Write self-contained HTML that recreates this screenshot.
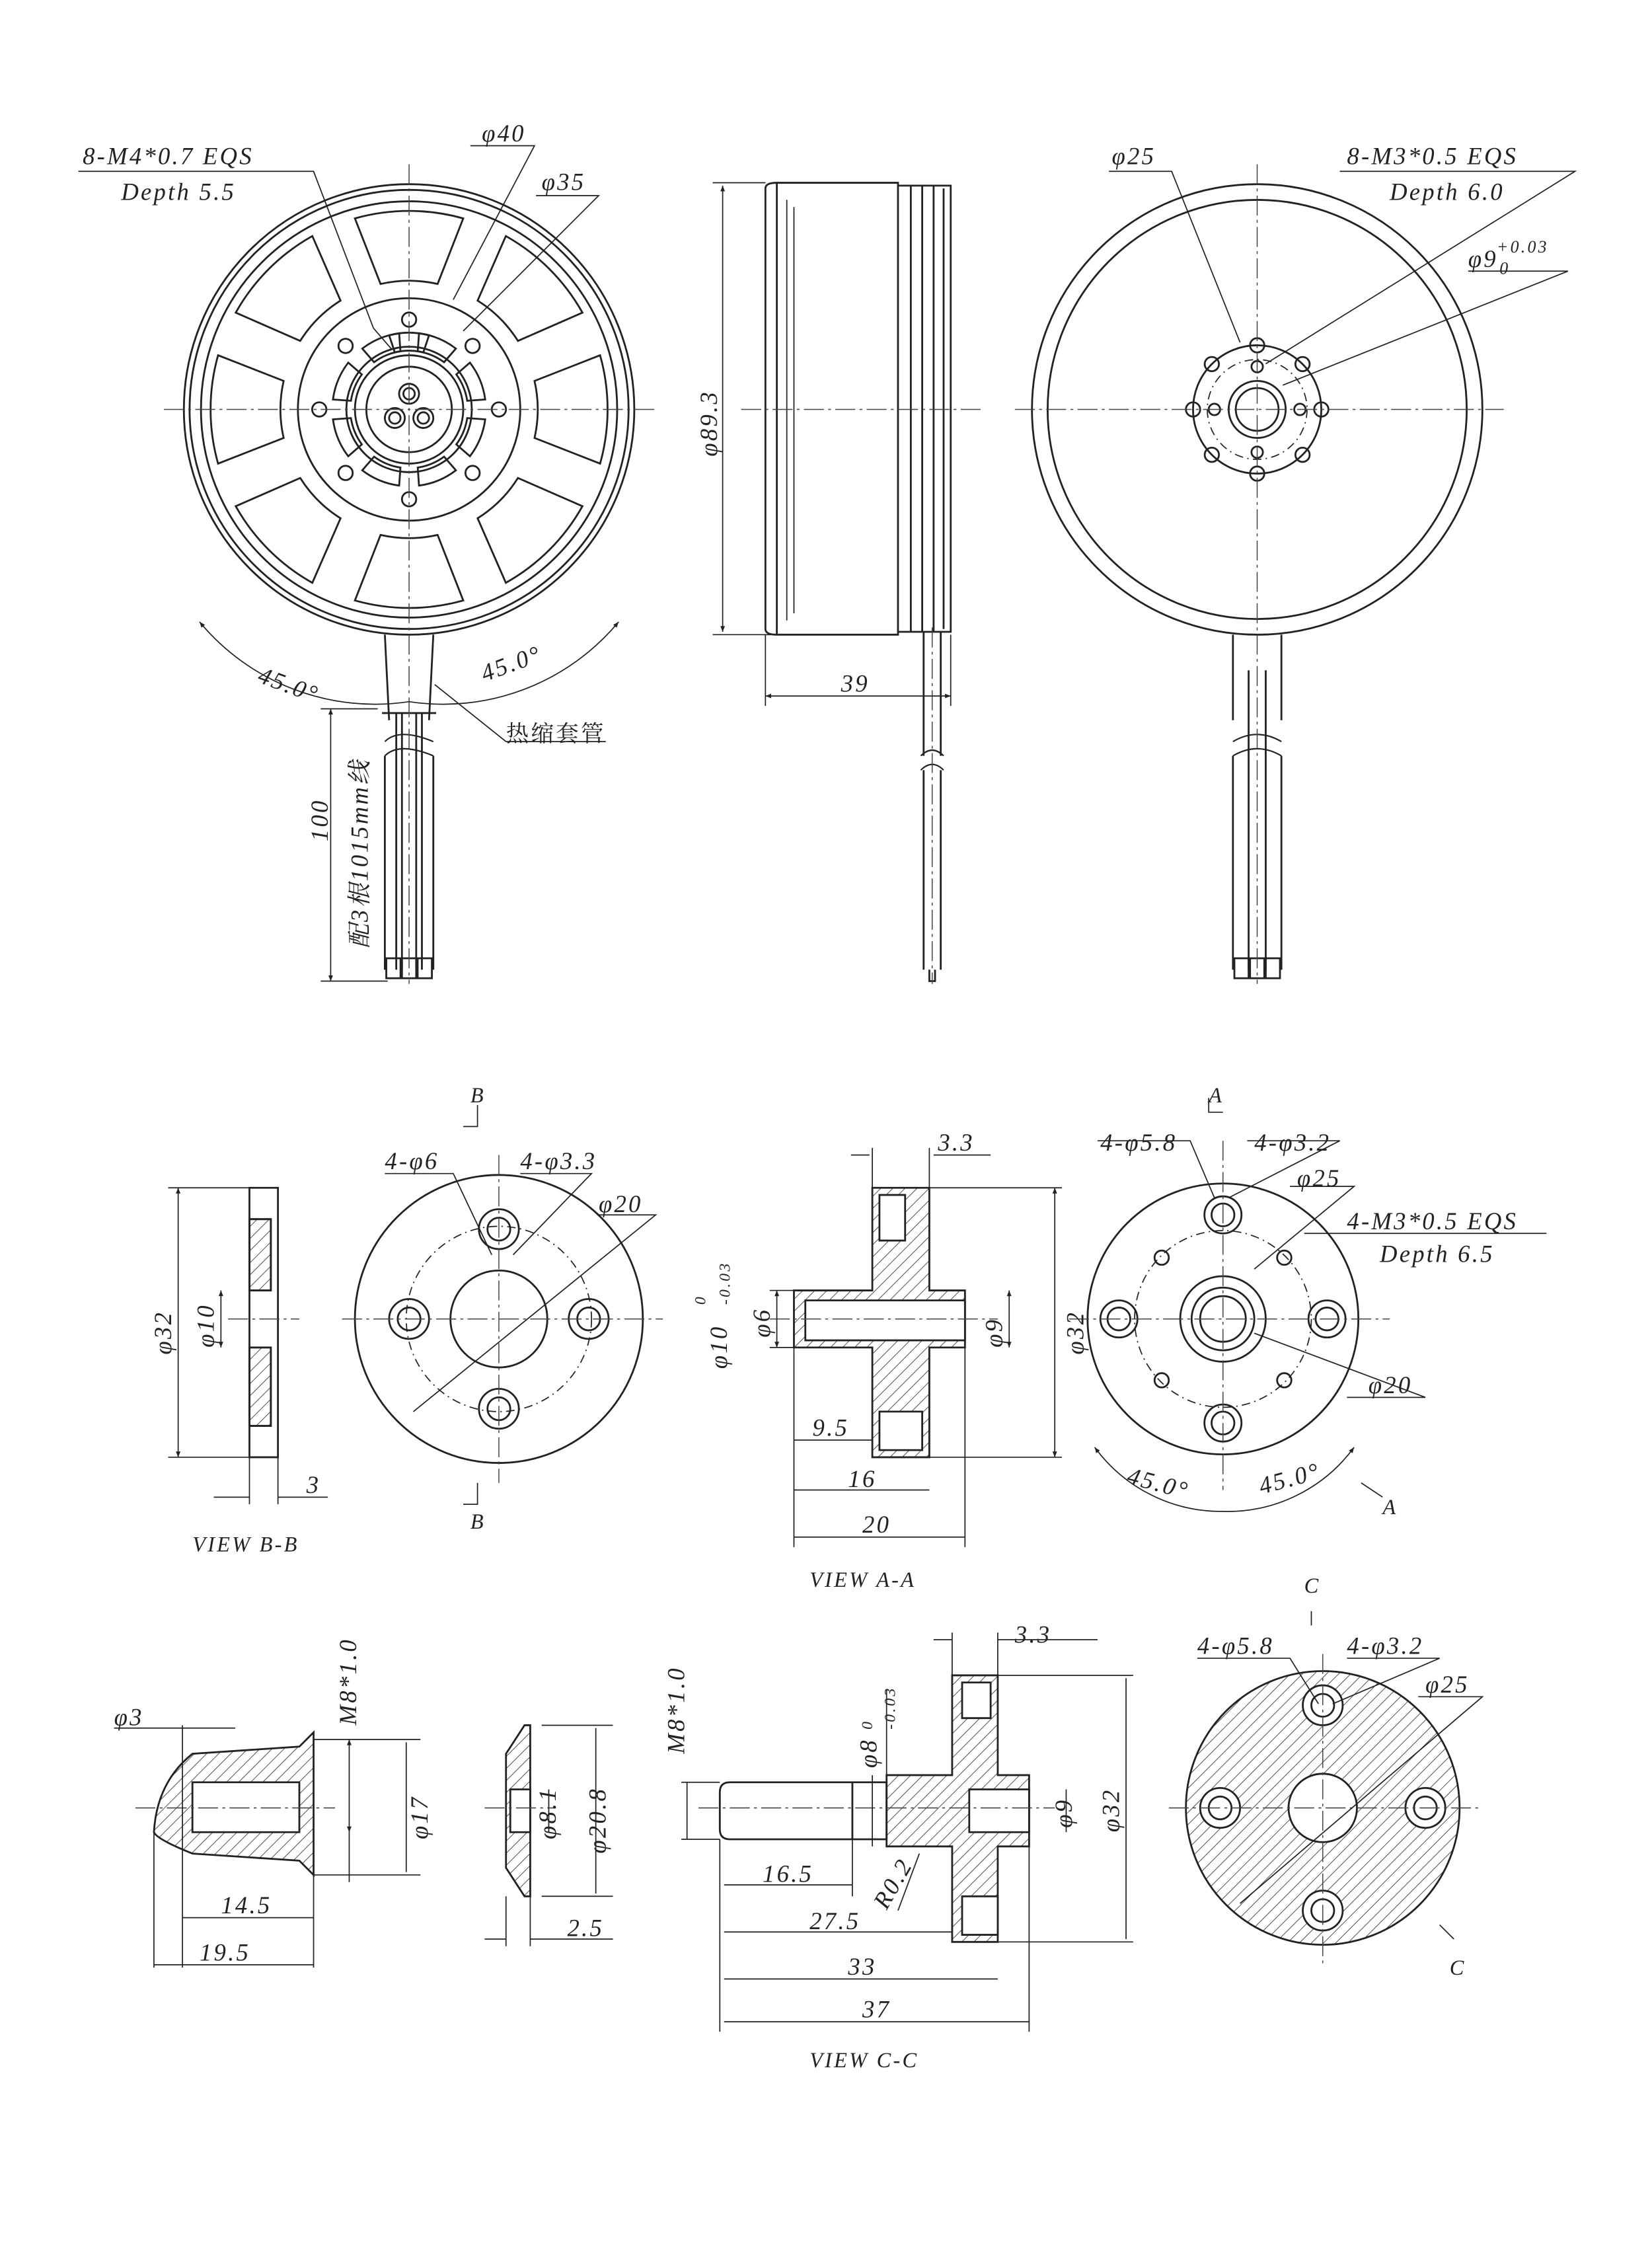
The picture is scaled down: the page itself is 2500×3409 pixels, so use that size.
<!DOCTYPE html>
<html><head><meta charset="utf-8"><style>
html,body{margin:0;padding:0;background:#fff;}
svg{display:block;}
text{font-family:"Liberation Serif","Noto Serif CJK SC",serif;font-style:italic;fill:#222;letter-spacing:1.5px;}
.c{font-family:"Liberation Serif","Noto Serif CJK SC","Noto Sans CJK SC",serif;font-style:normal;}
</style></head><body>
<svg width="2500" height="3409" viewBox="0 0 1159 1580" xmlns="http://www.w3.org/2000/svg">
<defs>
<marker id="a" viewBox="0 0 10 10" refX="10" refY="5" markerWidth="7" markerHeight="5" orient="auto-start-reverse"><path d="M0,1 L10,5 L0,9Z" fill="#222"/></marker>
<pattern id="h" width="6" height="6" patternUnits="userSpaceOnUse" patternTransform="rotate(45)"><line x1="0" y1="0" x2="0" y2="6" stroke="#333" stroke-width="0.8"/></pattern>
</defs>
<g fill="none" stroke="#222" stroke-width="1.3">

<!-- ===== Top-left motor ===== -->
<g transform="translate(287,287)">
<circle r="158"/><circle r="154"/><circle r="146"/>
<g id="w"><path d="M-20,-88 L-38,-134 A140,140 0 0 1 38,-134 L20,-88 A90,90 0 0 0 -20,-88Z"/></g>
<use href="#w" transform="rotate(45)"/><use href="#w" transform="rotate(90)"/><use href="#w" transform="rotate(135)"/>
<use href="#w" transform="rotate(180)"/><use href="#w" transform="rotate(225)"/><use href="#w" transform="rotate(270)"/><use href="#w" transform="rotate(315)"/>
<circle r="78"/>
<circle r="44"/><circle r="38"/><circle r="30"/>
<circle cx="0" cy="-11" r="7"/><circle cx="-10" cy="6" r="7"/><circle cx="10" cy="6" r="7"/>
<circle cx="0" cy="-11" r="4"/><circle cx="-10" cy="6" r="4"/><circle cx="10" cy="6" r="4"/>
<g id="ho"><circle cx="0" cy="-63" r="5"/></g>
<use href="#ho" transform="rotate(45)"/><use href="#ho" transform="rotate(90)"/><use href="#ho" transform="rotate(135)"/>
<use href="#ho" transform="rotate(180)"/><use href="#ho" transform="rotate(225)"/><use href="#ho" transform="rotate(270)"/><use href="#ho" transform="rotate(315)"/>
<g id="kd"><path d="M-14,-52 A54,54 0 0 1 14,-52 L10,-40 A42,42 0 0 0 -10,-40Z"/></g>
<use href="#kd" transform="rotate(22.5)"/><use href="#kd" transform="rotate(67.5)"/><use href="#kd" transform="rotate(112.5)"/><use href="#kd" transform="rotate(157.5)"/>
<use href="#kd" transform="rotate(202.5)"/><use href="#kd" transform="rotate(247.5)"/><use href="#kd" transform="rotate(292.5)"/><use href="#kd" transform="rotate(337.5)"/>
</g>
<!-- wires -->
<path d="M270,445 L273,505 M304,445 L301,505"/>
<path d="M270,530 L270,680 M304,530 L304,680 M282,500 L282,680 M292,500 L292,680 M278,500 L278,680 M296,500 L296,680"/>
<path d="M270,520 q10,-10 34,0 M270,530 q10,-10 34,0" stroke-width="1"/>
<rect x="271" y="672" width="10" height="14"/><rect x="282" y="672" width="10" height="14"/><rect x="293" y="672" width="10" height="14"/>
<line x1="268" y1="500" x2="306" y2="500"/>

<!-- ===== side view ===== -->
<path d="M545,128 L545,445 M537,132 L537,441 Q537,445 545,445 L630,445 L630,128 L545,128 Q537,128 537,132"/>
<path d="M630,130 L667,130 L667,443 L630,443"/>
<path d="M639,130 L639,443 M647,130 L647,443 M655,130 L655,443 M662,132 L662,441"/>
<path d="M552,140 L552,435 M557,145 L557,430" stroke-width="0.8"/>
<path d="M648,443 L648,530 M660,443 L660,530 M648,540 L648,680 M660,540 L660,680 M652,680 L652,688 L656,688 L656,680"/>
<path d="M646,530 q8,-8 16,0 M646,540 q8,-8 16,0" stroke-width="1"/>

<!-- ===== Top-right ===== -->
<g transform="translate(882,287)">
<circle r="158"/><circle r="147"/>
<circle r="45"/><circle r="20"/><circle r="15"/>
<circle r="35" stroke-dasharray="6,3,1,3" stroke-width="0.8"/>
<g id="hr"><circle cx="0" cy="-45" r="5"/></g>
<use href="#hr" transform="rotate(45)"/><use href="#hr" transform="rotate(90)"/><use href="#hr" transform="rotate(135)"/>
<use href="#hr" transform="rotate(180)"/><use href="#hr" transform="rotate(225)"/><use href="#hr" transform="rotate(270)"/><use href="#hr" transform="rotate(315)"/>
<g id="hq"><circle cx="0" cy="-30" r="4"/></g>
<use href="#hq" transform="rotate(90)"/><use href="#hq" transform="rotate(180)"/><use href="#hq" transform="rotate(270)"/>
</g>
<path d="M865,445 L865,505 M899,445 L899,505 M865,530 L865,680 M899,530 L899,680 M876,470 L876,680 M888,470 L888,680"/>
<path d="M865,520 q17,-10 34,0 M865,530 q17,-10 34,0" stroke-width="1"/>
<rect x="866" y="672" width="10" height="14"/><rect x="877" y="672" width="10" height="14"/><rect x="888" y="672" width="10" height="14"/>

<!-- ===== View B-B ===== -->
<path d="M175,833 L195,833 L195,1022 L175,1022Z M175,855 L190,855 L190,905 L175,905 M175,945 L190,945 L190,1000 L175,1000"/>
<rect x="175" y="855" width="15" height="50" fill="url(#h)"/>
<rect x="175" y="945" width="15" height="55" fill="url(#h)"/>
<circle cx="350" cy="925" r="101"/>
<circle cx="350" cy="925" r="65" stroke-dasharray="6,3,1,3" stroke-width="0.8"/>
<circle cx="350" cy="925" r="34"/>
<circle cx="350" cy="862" r="14"/><circle cx="350" cy="862" r="8"/>
<circle cx="350" cy="988" r="14"/><circle cx="350" cy="988" r="8"/>
<circle cx="287" cy="925" r="14"/><circle cx="287" cy="925" r="8"/>
<circle cx="413" cy="925" r="14"/><circle cx="413" cy="925" r="8"/>

<!-- ===== View A-A section ===== -->
<path d="M612,833 L652,833 L652,905 L677,905 L677,945 L652,945 L652,1022 L612,1022 L612,945 L557,945 L557,905 L612,905Z" fill="url(#h)"/>
<path d="M565,912 L677,912 L677,940 L565,940Z" fill="#fff"/>
<path d="M617,838 L635,838 L635,870 L617,870Z M617,990 L647,990 L647,1017 L617,1017Z" fill="#fff"/>
<circle cx="858" cy="925" r="95"/>
<circle cx="858" cy="925" r="62" stroke-dasharray="6,3,1,3" stroke-width="0.8"/>
<circle cx="858" cy="925" r="30"/><circle cx="858" cy="925" r="22"/><circle cx="858" cy="925" r="16"/>
<circle cx="858" cy="852" r="13"/><circle cx="858" cy="852" r="8"/>
<circle cx="858" cy="998" r="13"/><circle cx="858" cy="998" r="8"/>
<circle cx="785" cy="925" r="13"/><circle cx="785" cy="925" r="8"/>
<circle cx="931" cy="925" r="13"/><circle cx="931" cy="925" r="8"/>
<circle cx="815" cy="882" r="5"/><circle cx="901" cy="882" r="5"/><circle cx="815" cy="968" r="5"/><circle cx="901" cy="968" r="5"/>

<!-- ===== bottom row ===== -->
<path d="M108,1285 Q110,1250 135,1230 L210,1225 L220,1215 L220,1315 L210,1305 L135,1300 Q110,1290 108,1285Z" fill="url(#h)"/>
<path d="M135,1250 L210,1250 L210,1285 L135,1285Z" fill="#fff"/>
<path d="M355,1230 L368,1210 L372,1210 L372,1330 L368,1330 L355,1310Z" fill="url(#h)"/>
<path d="M358,1255 L372,1255 L372,1285 L358,1285Z" fill="#fff"/>
<path d="M512,1250 L622,1250 L622,1290 L512,1290 Q505,1290 505,1283 L505,1257 Q505,1250 512,1250Z"/>
<path d="M598,1250 L598,1290"/>
<path d="M622,1245 L668,1245 L668,1175 L700,1175 L700,1245 L722,1245 L722,1295 L700,1295 L700,1362 L668,1362 L668,1295 L622,1295Z" fill="url(#h)"/>
<path d="M680,1255 L722,1255 L722,1285 L680,1285Z M675,1180 L695,1180 L695,1205 L675,1205Z M675,1330 L700,1330 L700,1357 L675,1357Z" fill="#fff"/>
<circle cx="928" cy="1268" r="96" fill="url(#h)" stroke-width="1.3"/>
<circle cx="928" cy="1268" r="24" fill="#fff"/>
<circle cx="928" cy="1196" r="14" fill="#fff"/><circle cx="928" cy="1196" r="8"/>
<circle cx="928" cy="1340" r="14" fill="#fff"/><circle cx="928" cy="1340" r="8"/>
<circle cx="856" cy="1268" r="14" fill="#fff"/><circle cx="856" cy="1268" r="8"/>
<circle cx="1000" cy="1268" r="14" fill="#fff"/><circle cx="1000" cy="1268" r="8"/>
</g>

<!-- centerlines -->
<g stroke="#444" stroke-width="0.7" stroke-dasharray="14,3,2,3" fill="none">
<path d="M115,287 L460,287 M287,115 L287,690"/>
<path d="M520,287 L690,287 M654,440 L654,690"/>
<path d="M712,287 L1055,287 M882,115 L882,690"/>
<path d="M160,925 L210,925 M240,925 L465,925 M350,810 L350,1040"/>
<path d="M540,925 L700,925 M750,925 L975,925 M858,800 L858,1045"/>
<path d="M95,1268 L235,1268 M340,1268 L390,1268 M490,1268 L740,1268 M820,1268 L1040,1268 M928,1160 L928,1380"/>
</g>

<!-- dimension lines -->
<g stroke="#222" stroke-width="0.8" fill="none">
<path d="M507,130 L507,443" marker-start="url(#a)" marker-end="url(#a)"/>
<path d="M500,128 L537,128 M500,445 L545,445"/>
<path d="M537,488 L667,488" marker-start="url(#a)" marker-end="url(#a)"/>
<path d="M537,445 L537,495 M667,445 L667,495"/>
<path d="M232,497 L232,688" marker-start="url(#a)" marker-end="url(#a)"/>
<path d="M225,688 L272,688 M225,497 L265,497"/>
<path d="M140,436 A160,160 0 0 0 287,492 A160,160 0 0 0 434,436" marker-start="url(#a)" marker-end="url(#a)"/>
<path d="M55,120 L220,120 L262,230 M262,230 L275,245" />
<path d="M330,102 L375,102 L318,210 M376,137 L420,137 L325,232"/>
<path d="M355,520 L305,480 M355,520 L425,520"/>
<path d="M778,120 L822,120 L870,240 M940,120 L1105,120 L888,255 M1030,190 L1100,190 L900,270"/>
<path d="M125,833 L125,1022" marker-start="url(#a)" marker-end="url(#a)"/>
<path d="M118,833 L175,833 M118,1022 L175,1022"/>
<path d="M155,905 L155,945" marker-start="url(#a)" marker-end="url(#a)"/>
<path d="M150,1050 L175,1050 M195,1050 L230,1050 M175,1022 L175,1055 M195,1022 L195,1055"/>
<path d="M270,823 L318,823 L345,880 M365,823 L415,823 L360,880 M420,852 L460,852 L290,990"/>
<path d="M335,775 L335,790 L325,790 M335,1040 L335,1055 L325,1055"/>
<path d="M740,833 L740,1022" marker-start="url(#a)" marker-end="url(#a)"/>
<path d="M652,833 L745,833 M652,1022 L745,1022"/>
<path d="M708,905 L708,945" marker-start="url(#a)" marker-end="url(#a)"/>
<path d="M545,905 L545,945" marker-start="url(#a)" marker-end="url(#a)"/>
<path d="M540,905 L557,905 M540,945 L557,945"/>
<path d="M597,810 L610,810 M655,810 L695,810 M612,805 L612,833 M652,805 L652,833"/>
<path d="M557,1010 L612,1010 M557,1045 L652,1045 M557,1078 L677,1078 M557,945 L557,1085 M677,945 L677,1085"/>
<path d="M770,800 L835,800 L852,840 M875,800 L940,800 L862,840 M905,832 L950,832 L880,890 M915,865 L1085,865 M945,980 L1000,980 L880,935"/>
<path d="M768,1015 A110,110 0 0 0 858,1060 A110,110 0 0 0 950,1015" marker-start="url(#a)" marker-end="url(#a)"/>
<path d="M848,770 L848,780 L858,780 M955,1040 L970,1050"/>
<path d="M128,1210 L128,1380 M220,1315 L220,1380 M108,1285 L108,1380 M128,1345 L220,1345 M108,1378 L220,1378"/>
<path d="M80,1212 L165,1212"/>
<path d="M245,1220 L245,1320 M220,1220 L295,1220 M220,1315 L295,1315 M285,1222 L285,1313 M245,1250 L245,1285" marker-start="url(#a)" marker-end="url(#a)"/>
<path d="M372,1360 L430,1360 M340,1360 L355,1360 M355,1330 L355,1365 M372,1330 L372,1365"/>
<path d="M380,1210 L430,1210 M380,1330 L430,1330 M418,1212 L418,1328 M385,1255 L385,1285"/>
<path d="M482,1250 L482,1290 M478,1250 L505,1250 M478,1290 L505,1290"/>
<path d="M622,1185 L622,1245 M612,1245 L612,1295"/>
<path d="M655,1150 L668,1150 M700,1150 L770,1150 M668,1145 L668,1175 M700,1145 L700,1175"/>
<path d="M748,1255 L748,1285 M700,1175 L795,1175 M700,1362 L795,1362 M790,1177 L790,1360"/>
<path d="M508,1322 L598,1322 M508,1355 L668,1355 M508,1388 L700,1388 M508,1418 L722,1418 M505,1290 L505,1425 M722,1295 L722,1425 M598,1290 L598,1330 M630,1340 L645,1300"/>
<path d="M840,1163 L905,1163 L925,1195 M945,1163 L1010,1163 L935,1195 M995,1190 L1040,1190 L870,1335"/>
<path d="M920,1130 L920,1140 M1010,1350 L1020,1360"/>
</g>

<!-- text -->
<g font-size="17">
<text x="58" y="115">8-M4*0.7 EQS</text>
<text x="85" y="140">Depth 5.5</text>
<text x="338" y="99">φ40</text>
<text x="380" y="133">φ35</text>
<text x="180" y="478" transform="rotate(20 180 478)">45.0°</text>
<text x="340" y="478" transform="rotate(-20 340 478)">45.0°</text>
<text x="355" y="520" class="c" font-size="16">热缩套管</text>
<text x="230" y="590" transform="rotate(-90 230 590)">100</text>
<text x="258" y="665" transform="rotate(-90 258 665)">配3根1015mm线</text>
<text x="503" y="320" transform="rotate(-90 503 320)">φ89.3</text>
<text x="590" y="485">39</text>
<text x="780" y="115">φ25</text>
<text x="945" y="115">8-M3*0.5 EQS</text>
<text x="975" y="140">Depth 6.0</text>
<text x="1030" y="187">φ9</text><text x="1050" y="177" font-size="12">+0.03</text><text x="1052" y="192" font-size="12">0</text>
<text x="330" y="773" font-size="15">B</text>
<text x="330" y="1072" font-size="15">B</text>
<text x="270" y="820">4-φ6</text>
<text x="365" y="820">4-φ3.3</text>
<text x="420" y="850">φ20</text>
<text x="120" y="950" transform="rotate(-90 120 950)">φ32</text>
<text x="150" y="945" transform="rotate(-90 150 945)">φ10</text>
<text x="215" y="1047">3</text>
<text x="135" y="1088" font-size="15">VIEW B-B</text>
<text x="658" y="807">3.3</text>
<text x="760" y="950" transform="rotate(-90 760 950)">φ32</text>
<text x="703" y="945" transform="rotate(-90 703 945)">φ9</text>
<text x="540" y="938" transform="rotate(-90 540 938)">φ6</text>
<text x="510" y="960" transform="rotate(-90 510 960)">φ10</text>
<text x="495" y="915" font-size="11" transform="rotate(-90 495 915)">0</text>
<text x="512" y="915" font-size="11" transform="rotate(-90 512 915)">-0.03</text>
<text x="570" y="1007">9.5</text>
<text x="595" y="1043">16</text>
<text x="605" y="1075">20</text>
<text x="568" y="1113" font-size="15">VIEW A-A</text>
<text x="848" y="773" font-size="15">A</text>
<text x="970" y="1062" font-size="15">A</text>
<text x="772" y="807">4-φ5.8</text>
<text x="880" y="807">4-φ3.2</text>
<text x="910" y="832">φ25</text>
<text x="945" y="862">4-M3*0.5 EQS</text>
<text x="968" y="885">Depth 6.5</text>
<text x="960" y="977">φ20</text>
<text x="790" y="1040" transform="rotate(15 790 1040)">45.0°</text>
<text x="885" y="1048" transform="rotate(-15 885 1048)">45.0°</text>
<text x="80" y="1210">φ3</text>
<text x="250" y="1210" transform="rotate(-90 250 1210)">M8*1.0</text>
<text x="300" y="1290" transform="rotate(-90 300 1290)">φ17</text>
<text x="155" y="1342">14.5</text>
<text x="140" y="1375">19.5</text>
<text x="390" y="1290" transform="rotate(-90 390 1290)">φ8.1</text>
<text x="425" y="1300" transform="rotate(-90 425 1300)">φ20.8</text>
<text x="398" y="1358">2.5</text>
<text x="480" y="1230" transform="rotate(-90 480 1230)">M8*1.0</text>
<text x="615" y="1240" transform="rotate(-90 615 1240)">φ8</text>
<text x="612" y="1213" font-size="11" transform="rotate(-90 612 1213)">0</text>
<text x="628" y="1213" font-size="11" transform="rotate(-90 628 1213)">-0.03</text>
<text x="712" y="1152">3.3</text>
<text x="752" y="1282" transform="rotate(-90 752 1282)">φ9</text>
<text x="785" y="1285" transform="rotate(-90 785 1285)">φ32</text>
<text x="535" y="1320">16.5</text>
<text x="622" y="1340" transform="rotate(-60 622 1340)">R0.2</text>
<text x="568" y="1353">27.5</text>
<text x="595" y="1385">33</text>
<text x="605" y="1415">37</text>
<text x="568" y="1450" font-size="15">VIEW C-C</text>
<text x="915" y="1117" font-size="15">C</text>
<text x="1017" y="1385" font-size="15">C</text>
<text x="840" y="1160">4-φ5.8</text>
<text x="945" y="1160">4-φ3.2</text>
<text x="1000" y="1187">φ25</text>
</g>
</svg>
</body></html>
